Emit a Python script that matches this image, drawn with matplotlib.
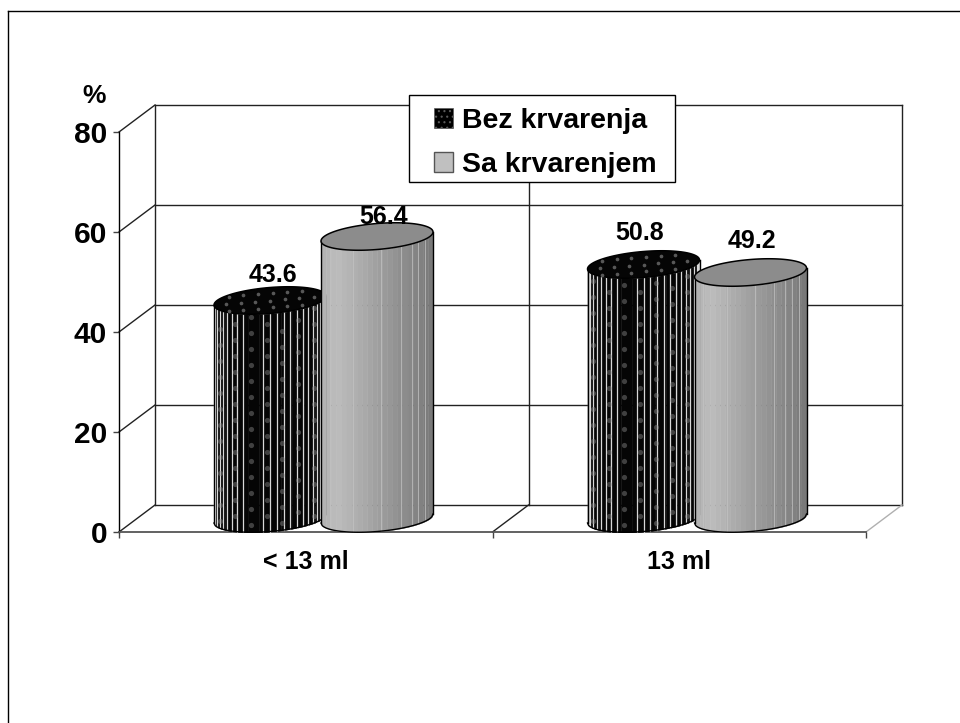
#!/usr/bin/env python3
"""
3D look cylinder chart, drawn by hand on a flat value axis
"""

import numpy as np
import matplotlib
matplotlib.use("Agg")
import matplotlib.pyplot as plt
from matplotlib.lines import Line2D
from matplotlib.patches import Patch, Rectangle

plt.rcParams['font.family'] = ['Liberation Sans', 'DejaVu Sans']
plt.rcParams['font.weight'] = 'bold'
plt.rcParams['hatch.linewidth'] = 0.8

# ============================================================================
# DATA
# ============================================================================

categories = ['< 13 ml', '13 ml']
series_names = ['Bez krvarenja', 'Sa krvarenjem']
bez_krvarenja = [43.6, 50.8]
sa_krvarenjem = [56.4, 49.2]
y_ticks = [0, 20, 40, 60, 80]

# ============================================================================
# GEOMETRY (category units on x, value units on y)
# ============================================================================

W, H = 960, 723
X0, X1, Y0, Y1 = 119, 866, 532, 132
PX_X = (X1 - X0) / 2
PX_Y = (Y0 - Y1) / 80

DX = 36 / PX_X      # wall depth
DY = 27 / PX_Y
A = 56 / PX_X       # cylinder half width
B = 13 / PX_Y       # cylinder half depth
SHEAR = 4.5 / PX_Y  # ellipse tilt
BASE = 13.5 / PX_Y  # floor level of the cylinder centre
OFFSETS = [0.4043, 0.6908]

# value label nudges in pixels, the labels are not placed evenly in the source
LABEL_NUDGE = [[(3, 25), (-4, 31)], [(7, 20), (1, 32)]]


def front_edge(cx, cy, x):
    """y of the lower (front) half of the tilted ellipse at x"""
    u = np.clip((x - cx) / A, -1, 1)
    return cy + SHEAR * u - B * np.sqrt(1 - u ** 2)


def draw_side(ax, cx, value, colors, z):
    bottom = BASE
    top = BASE + value
    edges = cx + A * np.linspace(-1, 1, len(colors) + 1)
    for i, c in enumerate(colors):
        xs = np.linspace(edges[i], edges[i + 1], 6)
        ax.fill_between(xs, front_edge(cx, bottom, xs), front_edge(cx, top, xs),
                        color=c, lw=0.3, zorder=z, clip_on=False)


def draw_outline(ax, cx, value, cap_color, z):
    bottom = BASE
    top = BASE + value
    t = np.linspace(0, 2 * np.pi, 120)
    ex = cx + A * np.cos(t)
    ey = top + SHEAR * np.cos(t) + B * np.sin(t)
    ax.fill(ex, ey, facecolor=cap_color, edgecolor='black', lw=1.1, zorder=z + 0.3, clip_on=False)
    xs = cx + A * np.linspace(-1, 1, 100)
    ax.plot(xs, front_edge(cx, bottom, xs), color='black', lw=1.0, zorder=z + 0.2, clip_on=False)
    for side in (-1, 1):
        ax.plot([cx + side * A] * 2, [bottom + side * SHEAR, top + side * SHEAR],
                color='black', lw=1.0, zorder=z + 0.2, clip_on=False)


def draw_gray(ax, cx, value, z):
    # facets, light on the left and dark on the right
    ramp = np.linspace(0, 1, 22)
    levels = np.where(ramp < 0.12, 0.70 + ramp * 0.3, 0.74 - (ramp - 0.12) * 0.30)
    draw_side(ax, cx, value, [str(v) for v in levels], z)
    # thin light seams between some of the facets
    for f in [-0.84, -0.42, 0.08, 0.42, 0.62, 0.74, 0.86]:
        x = cx + A * f
        ax.plot([x, x], [front_edge(cx, BASE, x), front_edge(cx, BASE + value, x)],
                color='#c4c4c4', lw=0.5, zorder=z + 0.1, clip_on=False)
    draw_outline(ax, cx, value, '#8c8c8c', z)


def draw_dark(ax, cx, value, z):
    draw_side(ax, cx, value, ['#050505'] * 10, z)
    # white stripes, closer together towards the edges
    for th in np.linspace(0.08, np.pi - 0.08, 25):
        f = -np.cos(th)
        if -0.42 < f < -0.18:
            continue
        x = cx + A * f
        ax.plot([x, x], [front_edge(cx, BASE, x), front_edge(cx, BASE + value, x)],
                color='#d8d8d8', lw=0.9, zorder=z + 0.1, clip_on=False)
    # dots on the wall, soft so they read as a blur and not as specks
    dots_x, dots_y = [], []
    for i, f in enumerate(np.arange(-0.9, 0.95, 0.28)):
        x = cx + A * f
        start = front_edge(cx, BASE, x) + (i % 2) * 1.6
        stop = front_edge(cx, BASE + value, x)
        for y in np.arange(start + 1.5, stop - 0.5, 3.2):
            dots_x.append(x)
            dots_y.append(y)
    ax.scatter(dots_x, dots_y, s=14, color='#8a8a8a', alpha=0.45, lw=0, zorder=z + 0.15, clip_on=False)
    draw_outline(ax, cx, value, '#050505', z)
    # dots on the cap
    top = BASE + value
    for row, fy in enumerate([-0.55, 0.0, 0.55]):
        span = np.sqrt(1 - fy ** 2) * 0.88
        for f in np.arange(-span + (row % 2) * 0.1, span, 0.26):
            ax.scatter([cx + A * f], [top + SHEAR * f + B * fy], s=7, color='#6e6e6e',
                       alpha=0.8, lw=0, zorder=z + 0.4, clip_on=False)


# ============================================================================
# AXES AND WALLS
# ============================================================================

fig = plt.figure(figsize=(W / 100, H / 100), dpi=100)
ax = fig.add_axes([X0 / W, (H - Y0) / H, (X1 - X0) / W, (Y0 - Y1) / H])
ax.set_xlim(0, 2)
ax.set_ylim(0, 80)
ax.patch.set_visible(False)

for s in ('top', 'right'):
    ax.spines[s].set_visible(False)
ax.spines['left'].set_linewidth(1.0)
ax.spines['bottom'].set_linewidth(1.3)
ax.spines['bottom'].set_color('#555555')

ax.set_yticks(y_ticks)
ax.tick_params(axis='y', labelsize=21.5, length=4.5, width=1, color='#444444', pad=4)
ax.set_xticks([0, 1, 2])
ax.set_xticklabels([])
ax.tick_params(axis='x', which='major', length=4, width=1, color='#444444')
ax.set_xticks([0.5, 1.5], minor=True)
ax.set_xticklabels(categories, minor=True, fontsize=18, fontweight='bold')
ax.tick_params(axis='x', which='minor', length=0, pad=13)

wall = dict(color='#222222', lw=1.0, clip_on=False, zorder=1)
for v in y_ticks:
    ax.plot([DX, 2 + DX], [v + DY, v + DY], **wall)
    ax.plot([0, DX], [v, v + DY], **wall)
ax.plot([DX, DX], [DY, 80 + DY], **wall)
ax.plot([2 + DX, 2 + DX], [DY, 80 + DY], **wall)
ax.plot([1 + DX, 1 + DX], [DY, 80 + DY], **wall)
ax.plot([1, 1 + DX], [0, DY], **wall)
ax.plot([2, 2 + DX], [0, DY], color='#b0b0b0', lw=1.0, clip_on=False, zorder=1)

# ============================================================================
# CYLINDERS AND LABELS
# ============================================================================

for g in range(len(categories)):
    draw_dark(ax, g + OFFSETS[0], bez_krvarenja[g], 3 + g * 2)
    draw_gray(ax, g + OFFSETS[1], sa_krvarenjem[g], 4 + g * 2)

    for s, vals in enumerate([bez_krvarenja, sa_krvarenjem]):
        nudge = LABEL_NUDGE[s][g]
        ax.annotate(f'{vals[g]:.1f}', xy=(g + OFFSETS[s], BASE + vals[g]),
                    xytext=(nudge[0] * 0.72, nudge[1] * 0.72), textcoords='offset points',
                    ha='center', va='center', fontsize=18, fontweight='bold', zorder=20)

fig.text(94 / W, 1 - 96 / H, '%', ha='center', va='center', fontsize=19, fontweight='bold')

# ============================================================================
# LEGEND AND PAGE BORDER
# ============================================================================

# box drawn apart from the legend, its padding is wider than it is tall
ax.add_patch(Rectangle((409 / W, 1 - 182 / H), 266 / W, 87 / H, transform=fig.transFigure,
                       facecolor='white', edgecolor='black', lw=1.0, clip_on=False, zorder=29))

handles = [Patch(facecolor='black', edgecolor='#5a5a5a', hatch='...', lw=0.5),
           Patch(facecolor='#c0c0c0', edgecolor='#555555', lw=1.0)]
leg = ax.legend(handles, series_names, loc='upper left', frameon=False,
                bbox_to_anchor=(434 / W, 1 - 108 / H), bbox_transform=fig.transFigure,
                borderaxespad=0, borderpad=0, fontsize=20.5, handlelength=0.67, handleheight=0.67,
                handletextpad=0.32, labelspacing=0.63)
leg.set_zorder(30)

# border runs off the page at right and bottom
fig.add_artist(Line2D([8 / W, 8 / W], [0, 1 - 11 / H], color='black', lw=1.0))
fig.add_artist(Line2D([8 / W, 1], [1 - 11 / H, 1 - 11 / H], color='black', lw=1.0))

fig.savefig('out.png', dpi=100)
